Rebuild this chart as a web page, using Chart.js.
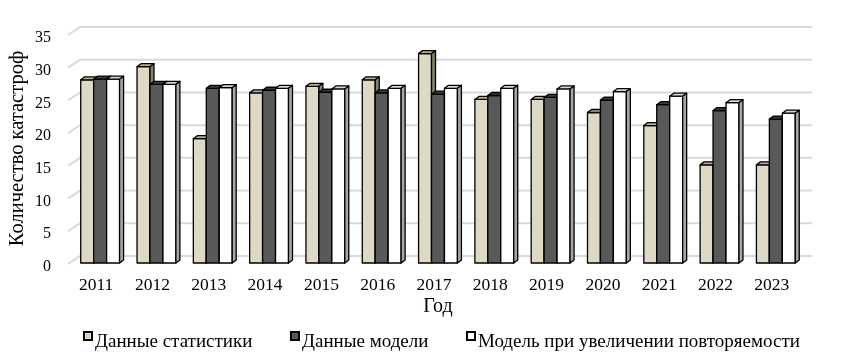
<!DOCTYPE html>
<html>
<head>
<meta charset="utf-8">
<script src="https://cdn.jsdelivr.net/npm/chart.js@4/dist/chart.umd.min.js"></script>
<style>
html,body{margin:0;padding:0;background:#fff;}
#wrap{position:relative;width:841px;height:363px;}
.lt{position:absolute;top:331px;font-family:"Liberation Serif","Times New Roman",serif;font-size:19px;line-height:19px;color:#000;white-space:nowrap;}
.lb{position:absolute;top:331px;width:10px;height:10px;box-sizing:border-box;border:2px solid #000;}
</style>
</head>
<body>
<div id="wrap">
<canvas id="c" width="841" height="363"></canvas>
</div>
<script>
const categories = ['2011','2012','2013','2014','2015','2016','2017','2018','2019','2020','2021','2022','2023'];
const seriesNames = ['Данные статистики','Данные модели','Модель при увеличении повторяемости'];
const statData = [28,30,19,26,27,28,32,25,25,23,21,15,15];
const modelData = [28.1,27.3,26.7,26.4,26.1,26.0,25.8,25.6,25.3,24.9,24.2,23.3,22.0];
const increasedData = [28.1,27.3,26.8,26.7,26.6,26.7,26.7,26.7,26.6,26.2,25.5,24.5,22.9];
const yTicks = [0,5,10,15,20,25,30,35];

const frontColors = ['#ddd9c4','#595959','#ffffff'];
const topColors = ['#b3af97','#3a3a3a','#d6d6d6'];
const sideColors = ['#858269','#404040','#a6a6a6'];
const FONT = '"Liberation Serif","Times New Roman",serif';
const DX = 4, DY = -3;

const gridPlugin = {
  id: 'grid3d',
  beforeDatasetsDraw(chart) {
    const ctx = chart.ctx, ys = chart.scales.y, a = chart.chartArea;
    ctx.save();
    ctx.strokeStyle = '#d9d9d9';
    ctx.lineWidth = 2;
    yTicks.forEach(v => {
      const y = ys.getPixelForValue(v);
      ctx.beginPath();
      ctx.moveTo(a.left - 4, y + 1);
      ctx.lineTo(a.left + 8, y - 7);
      ctx.lineTo(a.right + 8, y - 7);
      ctx.stroke();
    });
    ctx.restore();
  },
  afterDatasetsDraw(chart) {
    const ctx = chart.ctx;
    const metas = [0,1,2].map(i => chart.getDatasetMeta(i));
    ctx.save();
    ctx.lineWidth = 1.3;
    ctx.strokeStyle = '#000';
    ctx.lineJoin = 'round';
    for (let j = 0; j < categories.length; j++) {
      for (let d = 0; d < 3; d++) {
        const el = metas[d].data[j];
        const p = el.getProps(['x','y','base','width'], true);
        const l = p.x - p.width/2, r = p.x + p.width/2, t = p.y, b = p.base;
        ctx.fillStyle = frontColors[d];
        ctx.fillRect(l, t, r - l, b - t);
        ctx.strokeRect(l, t, r - l, b - t);
        ctx.beginPath();
        ctx.moveTo(l, t); ctx.lineTo(l + DX, t + DY); ctx.lineTo(r + DX, t + DY); ctx.lineTo(r, t); ctx.closePath();
        ctx.fillStyle = topColors[d]; ctx.fill(); ctx.stroke();
        ctx.beginPath();
        ctx.moveTo(r, t); ctx.lineTo(r + DX, t + DY); ctx.lineTo(r + DX, b + DY); ctx.lineTo(r, b); ctx.closePath();
        ctx.fillStyle = sideColors[d]; ctx.fill(); ctx.stroke();
      }
    }
    ctx.restore();
  }
};

const chart = new Chart(document.getElementById('c'), {
  type: 'bar',
  data: {
    labels: categories,
    datasets: [
      {label: seriesNames[0], data: statData, backgroundColor: frontColors[0]},
      {label: seriesNames[1], data: modelData, backgroundColor: frontColors[1]},
      {label: seriesNames[2], data: increasedData, backgroundColor: frontColors[2]}
    ]
  },
  options: {
    responsive: false,
    animation: false,
    events: [],
    layout: {padding: {left: 0, right: 37, top: 34, bottom: 40}},
    datasets: {bar: {categoryPercentage: 0.69, barPercentage: 1.0, borderWidth: 0}},
    plugins: {legend: {display: false}, tooltip: {enabled: false}},
    scales: {
      x: {
        grid: {display: false, drawTicks: false},
        border: {display: false},
        ticks: {font: {family: FONT, size: 17.5}, color: '#000', padding: 12, labelOffset: -4, maxRotation: 0, autoSkip: false},
        title: {display: true, text: 'Год', font: {family: FONT, size: 20}, color: '#000', padding: {top: 0, bottom: 4}},
        afterFit(s) { s.height = 60; }
      },
      y: {
        min: 0, max: 35,
        grid: {display: false, drawTicks: false},
        border: {display: false},
        ticks: {stepSize: 5, font: {family: FONT, size: 16}, color: '#000', padding: 21, labelOffset: 4},
        title: {display: true, text: 'Количество катастроф', font: {family: FONT, size: 20.5}, color: '#000', padding: {top: 5, bottom: 0}},
        afterFit(s) { s.width = 72; }
      }
    }
  },
  plugins: [gridPlugin]
});

// legend (HTML text)
const wrap = document.getElementById('wrap');
const boxX = [83, 290, 466];
seriesNames.forEach((n, i) => {
  const bx = document.createElement('div');
  bx.className = 'lb';
  bx.style.left = boxX[i] + 'px';
  bx.style.background = frontColors[i];
  wrap.appendChild(bx);
  const t = document.createElement('div');
  t.className = 'lt';
  t.style.left = (boxX[i] + 12) + 'px';
  t.textContent = n;
  wrap.appendChild(t);
});
</script>
</body>
</html>
